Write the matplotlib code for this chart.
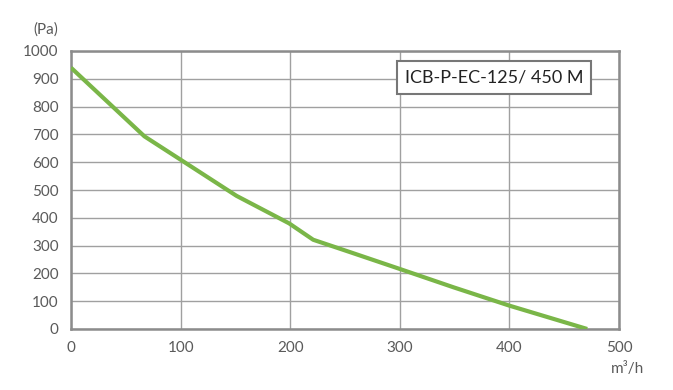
import numpy as np
import matplotlib.pyplot as plt

# airflow (m3/h) vs pressure (Pa)
flow = [0, 67, 100, 151, 199, 221, 255, 300, 349, 400, 471]
pressure = [940, 693, 609, 479, 380, 321, 276, 216, 150, 84, 0]

x_ticks = [0, 100, 200, 300, 400, 500]
y_ticks = [0, 100, 200, 300, 400, 500, 600, 700, 800, 900, 1000]
model = "ICB-P-EC-125/ 450 M"

plt.rcParams['font.family'] = ['Lato', 'DejaVu Sans']

fig = plt.figure(figsize=(6.73, 3.90), dpi=100)
ax = fig.add_axes([71 / 673, 61 / 390, 548 / 673, 278 / 390])

ax.plot(flow, pressure, color='#7ab648', lw=3, solid_capstyle='butt', zorder=3)

ax.set_xlim(0, 500)
ax.set_ylim(0, 1000)
ax.set_xticks(x_ticks)
ax.set_yticks(y_ticks)
ax.grid(True, color='#a0a0a0', lw=1)
ax.tick_params(length=0, labelsize=11, labelcolor='#5a5a5a', pad=9)
for s in ax.spines.values():
    s.set_color('#8c8c8c')
    s.set_linewidth(1.8)

fig.text(58 / 673, 1 - 30 / 390, '(Pa)', ha='right', va='center', fontsize=11,
         color='#5a5a5a')
fig.text(628 / 673, 1 - 369 / 390, 'm\u00b3/h', ha='center', va='center', fontsize=11,
         color='#5a5a5a')

ax.text(0.772, 0.905, model, transform=ax.transAxes, ha='center', va='center',
        fontsize=13, color='#222222',
        bbox=dict(boxstyle='square,pad=0.45', fc='white', ec='#777777', lw=1.5), zorder=5)

fig.savefig('out.png', dpi=100)
